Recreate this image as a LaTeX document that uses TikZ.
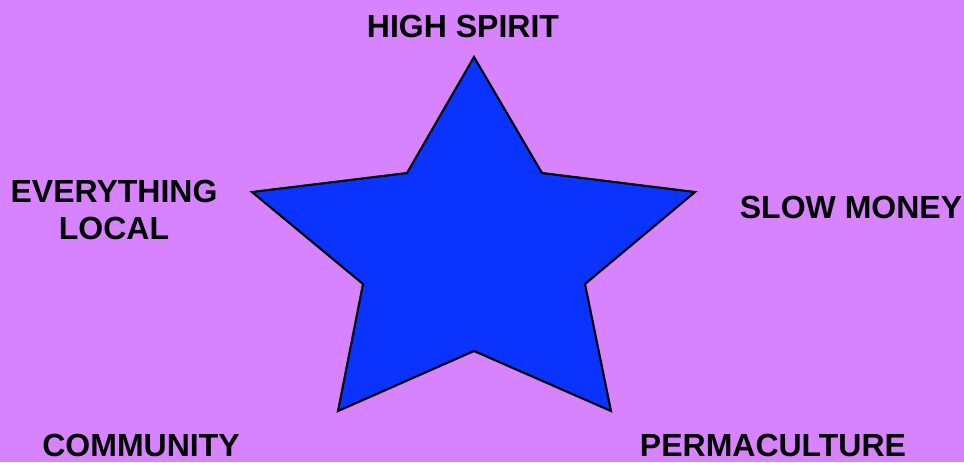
\documentclass[tikz,border=0pt]{standalone}
\usepackage{fontspec}
\setmainfont{Liberation Sans}
\definecolor{bglilac}{HTML}{D783FF}
\definecolor{starblue}{HTML}{0A33FF}

\begin{document}
\begin{tikzpicture}[
  x=0.75pt, y=-0.75pt,
  lbl/.style={font=\fontsize{24}{28}\selectfont\bfseries, align=center, inner sep=0pt, text=black},
]
% background
\fill[bglilac] (0,0) rectangle (964,462);
\useasboundingbox (0,0) rectangle (964,462);

% star
\draw[fill=starblue, line width=1.6pt, line join=miter]
  (474,57) -- (542,173) -- (695,192) -- (585,284) -- (611,411)
  -- (474,351) -- (338,411) -- (363,284) -- (252,192) -- (407,173) -- cycle;

% labels
\node[lbl] (spirit) at (463,26) {HIGH SPIRIT};
\node[lbl] (local) at (114,210) {EVERYTHING\\LOCAL};
\node[lbl] (money) at (851,207) {SLOW MONEY};
\node[lbl] (community) at (141,445) {COMMUNITY};
\node[lbl] (perma) at (773,445) {PERMACULTURE};
\end{tikzpicture}
\end{document}
